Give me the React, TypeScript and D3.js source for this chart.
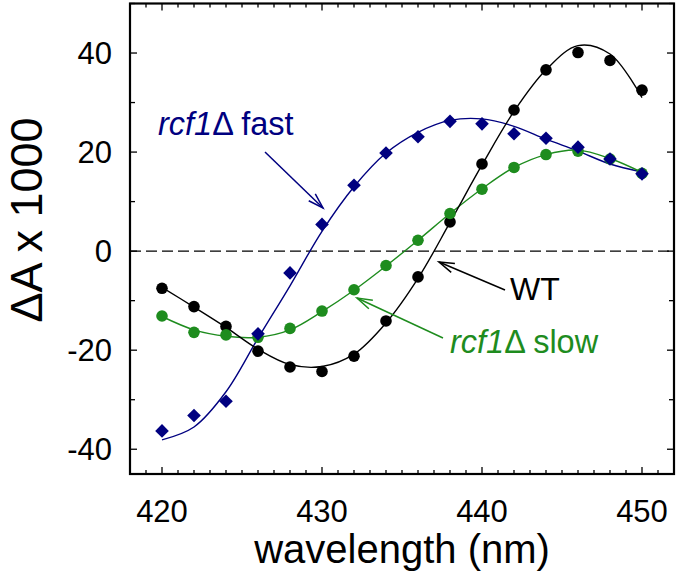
import React from "react";
import * as d3 from "d3";

const wavelengths = [420, 422, 424, 426, 428, 430, 432, 434, 436, 438, 440, 442, 444, 446, 448, 450];
const wtPoints = [-7.5, -11.2, -15.2, -20.2, -23.4, -24.3, -21.2, -14.1, -5.2, 5.9, 17.6, 28.5, 36.6, 40.1, 38.5, 32.5];
const slowPoints = [-13.1, -16.4, -16.9, -17.4, -15.6, -12.1, -7.8, -2.9, 2.2, 7.6, 12.5, 16.9, 19.5, 20.2, 18.6, 15.7];
const fastPoints = [-36.3, -33.2, -30.3, -16.7, -4.4, 5.4, 13.3, 19.8, 23.1, 26.2, 25.7, 23.7, 22.8, 21.0, 18.6, 15.6];

const fitWavelengths = [420, 422, 424, 426, 428, 430, 432, 434, 436, 438, 440, 442, 444, 446, 448, 450];
const wtFit = [-7.3, -11.3, -15.4, -19.8, -22.9, -23.3, -20.8, -14.5, -5.5, 5.8, 17.4, 28.2, 36.6, 41.5, 39.8, 31.0];
const fastFit = [-38.1, -35.5, -28.4, -17.6, -7.0, 4.0, 13.0, 19.8, 24.0, 26.4, 26.7, 25.2, 22.6, 20.2, 17.6, 16.0];
const slowFit = [-13.2, -15.9, -17.2, -17.4, -15.9, -12.2, -7.9, -3.0, 2.2, 7.6, 12.6, 16.9, 19.5, 20.4, 18.7, 15.9];

const xMajorTicks = [420, 430, 440, 450];
const yMajorTicks = [-40, -20, 0, 20, 40];

const W = 678;
const H = 585;
const NAVY = "#000080";
const GREEN = "#1e8c1e";
const FONT = "'Liberation Sans', Arial, sans-serif";

export default function App() {
  const x = d3.scaleLinear().domain([418, 452]).range([130, 674]);
  const y = d3.scaleLinear().domain([-45, 50]).range([474, 3.5]);

  const line = d3
    .line<[number, number]>()
    .x((d) => x(d[0]))
    .y((d) => y(d[1]))
    .curve(d3.curveCatmullRom.alpha(0.5));

  const fitPath = (vals: number[]) => line(fitWavelengths.map((w, i) => [w, vals[i]] as [number, number])) || "";

  const xMinor = d3.range(418, 453, 1);
  const yMinor = d3.range(-40, 51, 10);

  const [x0, x1] = x.range();
  const [y0, y1] = y.range();

  const arrow = (fx: number, fy: number, tx: number, ty: number, color: string) => {
    const ang = Math.atan2(fy - ty, fx - tx);
    const L = 16;
    const spread = 0.3;
    const a1 = [tx + L * Math.cos(ang + spread), ty + L * Math.sin(ang + spread)];
    const a2 = [tx + L * Math.cos(ang - spread), ty + L * Math.sin(ang - spread)];
    return (
      <g stroke={color} strokeWidth={1.5} fill="none">
        <line x1={fx} y1={fy} x2={tx} y2={ty} />
        <polyline points={`${a1[0]},${a1[1]} ${tx},${ty} ${a2[0]},${a2[1]}`} />
      </g>
    );
  };

  const diamond = (cx: number, cy: number, r: number) =>
    `M${cx},${cy - r}L${cx + r},${cy}L${cx},${cy + r}L${cx - r},${cy}Z`;

  return (
    <svg width={W} height={H} style={{ position: "absolute", left: 0, top: 0, background: "#fff" }} fontFamily={FONT}>
      <rect x={0} y={0} width={W} height={H} fill="#fff" />
      {/* zero dashed line */}
      <line x1={x0} x2={x1} y1={y(0)} y2={y(0)} stroke="#000" strokeWidth={1.3} strokeDasharray="11,5" />

      {/* fit curves */}
      <path d={fitPath(fastFit)} fill="none" stroke={NAVY} strokeWidth={1.4} />
      <path d={fitPath(slowFit)} fill="none" stroke={GREEN} strokeWidth={1.4} />
      <path d={fitPath(wtFit)} fill="none" stroke="#000" strokeWidth={1.4} />

      {/* points */}
      {wavelengths.map((w, i) => (
        <circle key={"wt" + i} cx={x(w)} cy={y(wtPoints[i])} r={5.8} fill="#000" />
      ))}
      {wavelengths.map((w, i) => (
        <circle key={"sl" + i} cx={x(w)} cy={y(slowPoints[i])} r={5.8} fill={GREEN} />
      ))}
      {wavelengths.map((w, i) => (
        <path key={"fa" + i} d={diamond(x(w), y(fastPoints[i]), 6.8)} fill={NAVY} />
      ))}

      {/* ticks */}
      <g stroke="#000" strokeWidth={1.3}>
        {xMinor.map((t) => {
          const major = t % 10 === 0;
          const len = major ? 7 : 4;
          return (
            <g key={"xt" + t}>
              <line x1={x(t)} x2={x(t)} y1={y0} y2={y0 - len} />
              <line x1={x(t)} x2={x(t)} y1={y1} y2={y1 + len} />
            </g>
          );
        })}
        {yMinor.map((t) => {
          const major = t % 20 === 0;
          const len = major ? 7 : 5;
          return (
            <g key={"yt" + t}>
              <line x1={x0} x2={x0 + len} y1={y(t)} y2={y(t)} />
              <line x1={x1} x2={x1 - len} y1={y(t)} y2={y(t)} />
            </g>
          );
        })}
      </g>

      {/* frame */}
      <rect x={x0} y={y1} width={x1 - x0} height={y0 - y1} fill="none" stroke="#000" strokeWidth={2.2} />

      {/* tick labels */}
      {xMajorTicks.map((t) => (
        <text key={"xl" + t} x={x(t)} y={522} textAnchor="middle" fontSize={31} fill="#000">
          {t}
        </text>
      ))}
      {yMajorTicks.map((t) => (
        <text key={"yl" + t} x={112} y={y(t)} dy="0.36em" textAnchor="end" fontSize={31} fill="#000">
          {t}
        </text>
      ))}

      {/* axis titles */}
      <text x={402} y={563} textAnchor="middle" fontSize={40} fill="#000">
        wavelength (nm)
      </text>
      <text
        transform={`translate(42,${220}) rotate(-90)`}
        textAnchor="middle"
        fontSize={45}
        fill="#000"
      >
        ΔA x 1000
      </text>

      {/* annotations */}
      <text x={158} y={135} fontSize={32.5} fill={NAVY}>
        <tspan fontStyle="italic">rcf1</tspan>Δ fast
      </text>
      {arrow(265, 152, 323, 208, NAVY)}

      <text x={510} y={300} fontSize={32} fill="#000">
        WT
      </text>
      {arrow(505, 290, 439, 262, "#000")}

      <text x={450} y={353} fontSize={32.5} fill={GREEN}>
        <tspan fontStyle="italic">rcf1</tspan>Δ slow
      </text>
      {arrow(443, 338, 357, 298, GREEN)}
    </svg>
  );
}
